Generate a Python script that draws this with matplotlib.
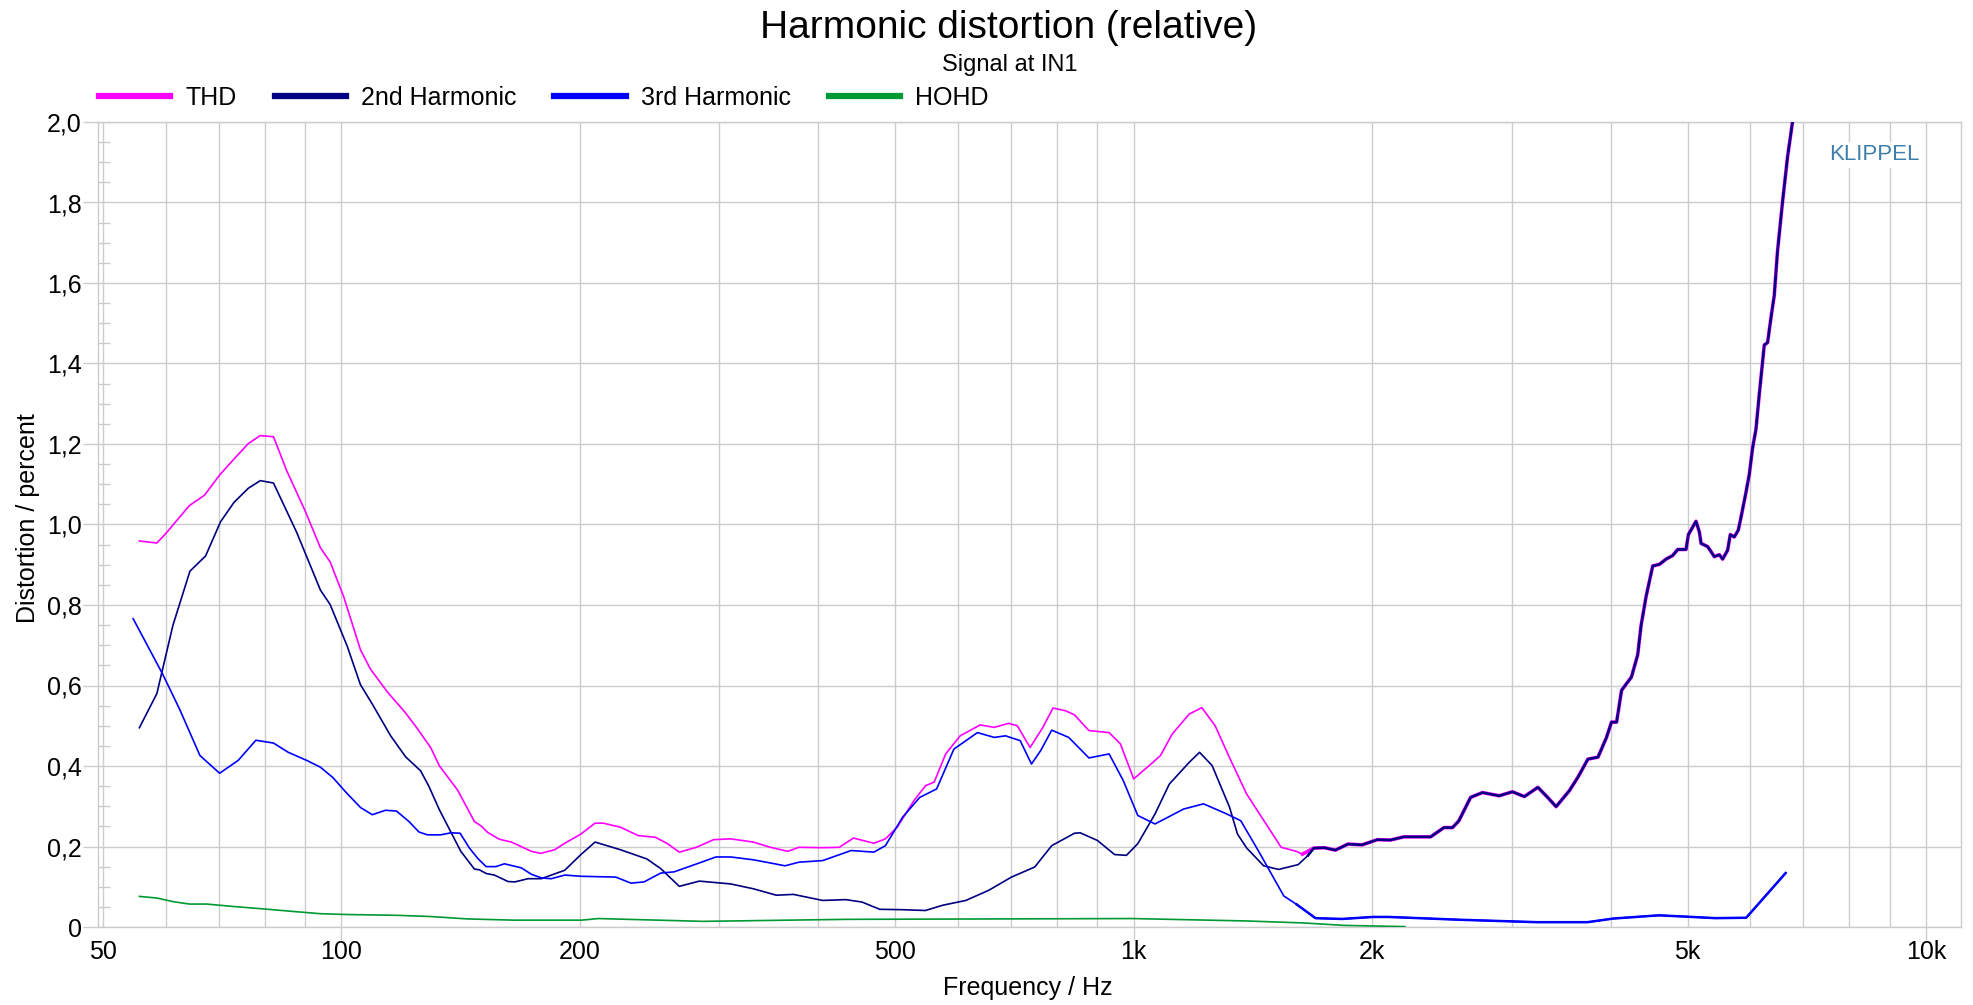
import matplotlib
matplotlib.use('Agg')
import matplotlib.pyplot as plt
import numpy as np
from matplotlib.lines import Line2D
from matplotlib.ticker import FixedLocator, FuncFormatter, MultipleLocator, NullFormatter

plt.rcParams['font.family'] = ['Liberation Sans', 'DejaVu Sans']

# --- data (frequency in Hz, distortion in percent) ---
thd_freq = [55.6, 58.5, 60.0, 64.3, 67.2, 70.2, 73.0, 76.3, 79.0, 82.1, 85.3, 90.0, 94.1, 96.8,
            100.7, 105.7, 108.8, 114.3, 120.5, 124.7, 129.7, 132.9, 140.2, 147.2, 150.1, 153.0,
            158.3, 163.9, 173.7, 178.6, 185.9, 191, 200.6, 209, 214, 225, 237, 249, 258, 267,
            280.6, 295, 310, 331, 348, 366, 378, 405, 425, 443, 470, 486, 503, 528, 546, 560,
            579, 604, 640, 667, 695, 713, 740, 768, 791, 821, 842, 878, 931, 962, 1000, 1046,
            1081, 1118, 1175, 1219, 1267, 1321, 1388, 1460, 1535, 1604, 1633]
thd_val = [0.959, 0.954, 0.977, 1.047, 1.073, 1.123, 1.160, 1.201, 1.221, 1.218, 1.134, 1.034,
           0.942, 0.907, 0.820, 0.689, 0.641, 0.584, 0.532, 0.493, 0.445, 0.401, 0.340, 0.262,
           0.251, 0.235, 0.218, 0.211, 0.188, 0.183, 0.192, 0.207, 0.231, 0.258, 0.258, 0.248,
           0.227, 0.223, 0.207, 0.186, 0.198, 0.217, 0.219, 0.211, 0.198, 0.188, 0.198, 0.197,
           0.198, 0.221, 0.208, 0.219, 0.248, 0.314, 0.351, 0.360, 0.430, 0.475, 0.502, 0.496,
           0.506, 0.500, 0.446, 0.496, 0.544, 0.537, 0.527, 0.488, 0.483, 0.455, 0.368, 0.401,
           0.426, 0.479, 0.529, 0.545, 0.500, 0.421, 0.331, 0.264, 0.198, 0.188, 0.181]

h2_freq = [55.6, 58.5, 61.3, 64.4, 67.4, 70.4, 73.2, 76.3, 79.0, 82.1, 87.8, 94.1, 96.8, 101.7,
           105.7, 109.4, 115.4, 120.5, 125.9, 129.0, 132.9, 141.5, 147.2, 149.4, 152.3, 156.0,
           162.3, 165.5, 172.0, 178.8, 182.3, 191.4, 200.6, 209, 225, 243, 253, 267, 283, 310,
           331, 354, 372, 405, 433, 454, 478, 511, 546, 574, 614, 656, 701, 750, 788, 842, 856,
           900, 946, 979, 1012, 1064, 1109, 1175, 1211, 1256, 1321, 1352, 1389, 1459, 1524,
           1613, 1660]
h2_val = [0.495, 0.580, 0.750, 0.884, 0.922, 1.007, 1.055, 1.090, 1.109, 1.103, 0.981, 0.837,
          0.801, 0.698, 0.602, 0.554, 0.475, 0.423, 0.388, 0.349, 0.292, 0.188, 0.144, 0.142,
          0.133, 0.129, 0.113, 0.112, 0.120, 0.120, 0.126, 0.141, 0.180, 0.211, 0.192, 0.169,
          0.145, 0.101, 0.114, 0.107, 0.095, 0.079, 0.081, 0.066, 0.068, 0.062, 0.044, 0.043,
          0.041, 0.054, 0.066, 0.091, 0.124, 0.149, 0.202, 0.233, 0.234, 0.215, 0.180, 0.178,
          0.207, 0.281, 0.355, 0.409, 0.434, 0.401, 0.298, 0.231, 0.196, 0.152, 0.143, 0.155,
          0.178]

# above ~1.7 kHz THD and 2nd harmonic coincide
hf_freq = [1688, 1740, 1797, 1864, 1942, 2030, 2109, 2193, 2370, 2464, 2526, 2573, 2662, 2755,
           2893, 3006, 3112, 3237, 3330, 3413, 3548, 3636, 3743, 3855, 3951, 4009, 4069, 4128,
           4248, 4326, 4368, 4432, 4519, 4608, 4698, 4790, 4860, 4979, 5013, 5125, 5176, 5201,
           5302, 5406, 5484, 5537, 5618, 5662, 5727, 5795, 5851, 5926, 5984, 6042, 6100, 6160,
           6250, 6310, 6383, 6433, 6495, 6590, 6686, 6784, 6900]
hf_val = [0.196, 0.197, 0.191, 0.206, 0.204, 0.217, 0.216, 0.224, 0.224, 0.247, 0.247, 0.264,
          0.322, 0.334, 0.326, 0.336, 0.324, 0.347, 0.322, 0.299, 0.339, 0.372, 0.417, 0.422,
          0.471, 0.509, 0.509, 0.588, 0.621, 0.676, 0.748, 0.820, 0.897, 0.901, 0.914, 0.923,
          0.938, 0.938, 0.975, 1.008, 0.981, 0.953, 0.945, 0.920, 0.925, 0.914, 0.936, 0.975,
          0.969, 0.986, 1.025, 1.080, 1.125, 1.191, 1.236, 1.324, 1.446, 1.452, 1.524, 1.568,
          1.679, 1.801, 1.912, 2.0, 2.12]

h3_freq = [54.6, 59.5, 62.5, 66.3, 70.2, 74.1, 78.0, 82.1, 85.7, 90.4, 94.1, 97.6, 101.2, 105.7,
           109.4, 113.7, 117.4, 121.7, 125.3, 128.4, 133.5, 137.5, 141.2, 145.1, 148.7, 152.3,
           156.7, 160.6, 168.7, 173.7, 178.8, 184.0, 191.4, 200.6, 222, 232, 241, 253, 263, 281,
           297, 310, 331, 348, 363, 378, 405, 440, 470, 486, 511, 537, 564, 593, 635, 667, 689,
           719, 743, 763, 788, 828, 878, 931, 970, 1012, 1064, 1156, 1225, 1310, 1365, 1436,
           1547, 1606, 1696, 1756, 1833, 2005, 2096, 2580, 3225, 3740, 4030, 4600, 4950, 5420,
           5930, 6650]
h3_val = [0.766, 0.628, 0.541, 0.426, 0.382, 0.414, 0.464, 0.457, 0.434, 0.414, 0.397, 0.371,
          0.336, 0.297, 0.279, 0.290, 0.288, 0.262, 0.236, 0.229, 0.229, 0.234, 0.233, 0.196,
          0.170, 0.150, 0.150, 0.157, 0.147, 0.131, 0.122, 0.120, 0.129, 0.126, 0.124, 0.109,
          0.112, 0.134, 0.137, 0.157, 0.174, 0.174, 0.167, 0.159, 0.152, 0.161, 0.165, 0.190,
          0.186, 0.202, 0.273, 0.322, 0.343, 0.442, 0.483, 0.471, 0.475, 0.463, 0.405, 0.438,
          0.489, 0.471, 0.420, 0.430, 0.364, 0.277, 0.256, 0.293, 0.306, 0.281, 0.264, 0.190,
          0.077, 0.056, 0.022, 0.021, 0.020, 0.025, 0.025, 0.018, 0.012, 0.012, 0.021, 0.029,
          0.026, 0.022, 0.023, 0.134]

hohd_freq = [55.6, 58.5, 61.3, 64.3, 67.6, 73, 79.7, 85.3, 94.1, 101.7, 117.6, 129.7, 144.4,
             165.5, 201, 211, 286, 433, 995, 1388, 1641, 1843, 2200]
hohd_val = [0.076, 0.072, 0.063, 0.057, 0.057, 0.051, 0.045, 0.040, 0.033, 0.031, 0.029, 0.026,
            0.020, 0.017, 0.017, 0.021, 0.014, 0.019, 0.021, 0.015, 0.010, 0.004, 0.001]

x_ticks = [50, 100, 200, 500, 1000, 2000, 5000, 10000]
x_tick_labels = ['50', '100', '200', '500', '1k', '2k', '5k', '10k']

names = ['THD', '2nd Harmonic', '3rd Harmonic', 'HOHD']
colors = ['#ff00ff', '#000080', '#0000ff', '#009933']

fig = plt.figure(figsize=(19.73, 10.05), dpi=100)
W, H = 1973, 1005
ax = fig.add_axes([98 / W, 1 - 927 / H, (1961 - 98) / W, (927 - 122) / H])
ax.set_xscale('log')
ax.set_xlim(49.3, 11070)
ax.set_ylim(0, 2)

thd_f = np.array(thd_freq + hf_freq)
thd_v = np.array(thd_val + hf_val)
h2_f = np.array(h2_freq + hf_freq)
h2_v = np.array(h2_val + hf_val)
h3_f = np.array(h3_freq)
h3_v = np.array(h3_val)

ax.plot(thd_f, thd_v, color=colors[0], lw=1.2, zorder=3)
hi = thd_f >= 1633
ax.plot(thd_f[hi], thd_v[hi], color=colors[0], lw=2.6, zorder=3)
ax.plot(h2_f, h2_v, color=colors[1], lw=1.2, zorder=4)
hi = h2_f >= 1660
ax.plot(h2_f[hi], h2_v[hi], color=colors[1], lw=1.8, zorder=4)
ax.plot(h3_f, h3_v, color=colors[2], lw=1.2, zorder=5)
hi = h3_f >= 1606
ax.plot(h3_f[hi], h3_v[hi], color=colors[2], lw=1.8, zorder=5)
ax.plot(hohd_freq, hohd_val, color=colors[3], lw=1.2, zorder=6)

# axes styling
grid_c = '#cccccc'
ax.xaxis.set_major_locator(FixedLocator(x_ticks))
ax.xaxis.set_major_formatter(FuncFormatter(lambda v, p: x_tick_labels[x_ticks.index(int(round(v)))]
                                           if int(round(v)) in x_ticks else ''))
minors = [m * 10 ** e for e in range(1, 5) for m in range(1, 10)]
minors = [m for m in minors if 49 < m < 11100 and m not in x_ticks]
ax.xaxis.set_minor_locator(FixedLocator(minors))
ax.xaxis.set_minor_formatter(NullFormatter())
ax.tick_params(axis='x', which='major', length=0, pad=9, labelsize=18)
ax.tick_params(axis='x', which='minor', length=0)
ax.grid(True, axis='x', which='both', color=grid_c, lw=1.0)
fig.canvas.draw()
# short outward marks only at the decades
for t, v in zip(ax.xaxis.get_major_ticks(), x_ticks):
    if v in (100, 1000, 10000):
        t.tick1line.set_markersize(9.4)
        t.tick1line.set_markeredgecolor(grid_c)
        t.tick1line.set_markeredgewidth(1.0)

ax.yaxis.set_major_locator(MultipleLocator(0.2))
ax.yaxis.set_minor_locator(MultipleLocator(0.05))
ax.yaxis.set_major_formatter(FuncFormatter(lambda v, p: '0' if abs(v) < 1e-9 else f'{v:.1f}'.replace('.', ',')))
ax.tick_params(axis='y', which='major', direction='out', length=10.8, width=1, color=grid_c,
               pad=1, labelsize=18)
ax.tick_params(axis='y', which='minor', direction='in', length=8.6, width=1, color=grid_c)
ax.grid(True, axis='y', which='major', color=grid_c, lw=1.0)
ax.set_axisbelow(True)
for s in ax.spines.values():
    s.set_color(grid_c)
    s.set_linewidth(1.0)

ax.text(1874 / W, 1 - 155 / H, 'KLIPPEL', transform=fig.transFigure, ha='center', va='center',
        fontsize=16, color='#3d7eaa', zorder=7,
        bbox=dict(facecolor='white', edgecolor='none', pad=2))

fig.text(0.511, 1 - 28 / H, 'Harmonic distortion (relative)', ha='center', va='center', fontsize=28)
fig.text(0.512, 1 - 65 / H, 'Signal at IN1', ha='center', va='center', fontsize=17)
fig.text(28 / W, 1 - 518 / H, 'Distortion / percent', rotation=90, ha='center', va='center', fontsize=18)
fig.text(1028 / W, 1 - 988 / H, 'Frequency / Hz', ha='center', va='center', fontsize=18)

handles = [Line2D([], [], color=c, lw=4.5) for c in colors]
fig.legend(handles, names, loc='center left', bbox_to_anchor=(99 / W, 1 - 98 / H), ncol=4,
           frameon=False, fontsize=18, handlelength=2.85, handletextpad=0.62, columnspacing=1.5,
           borderpad=0, borderaxespad=0)

fig.savefig('out.png', dpi=100)
